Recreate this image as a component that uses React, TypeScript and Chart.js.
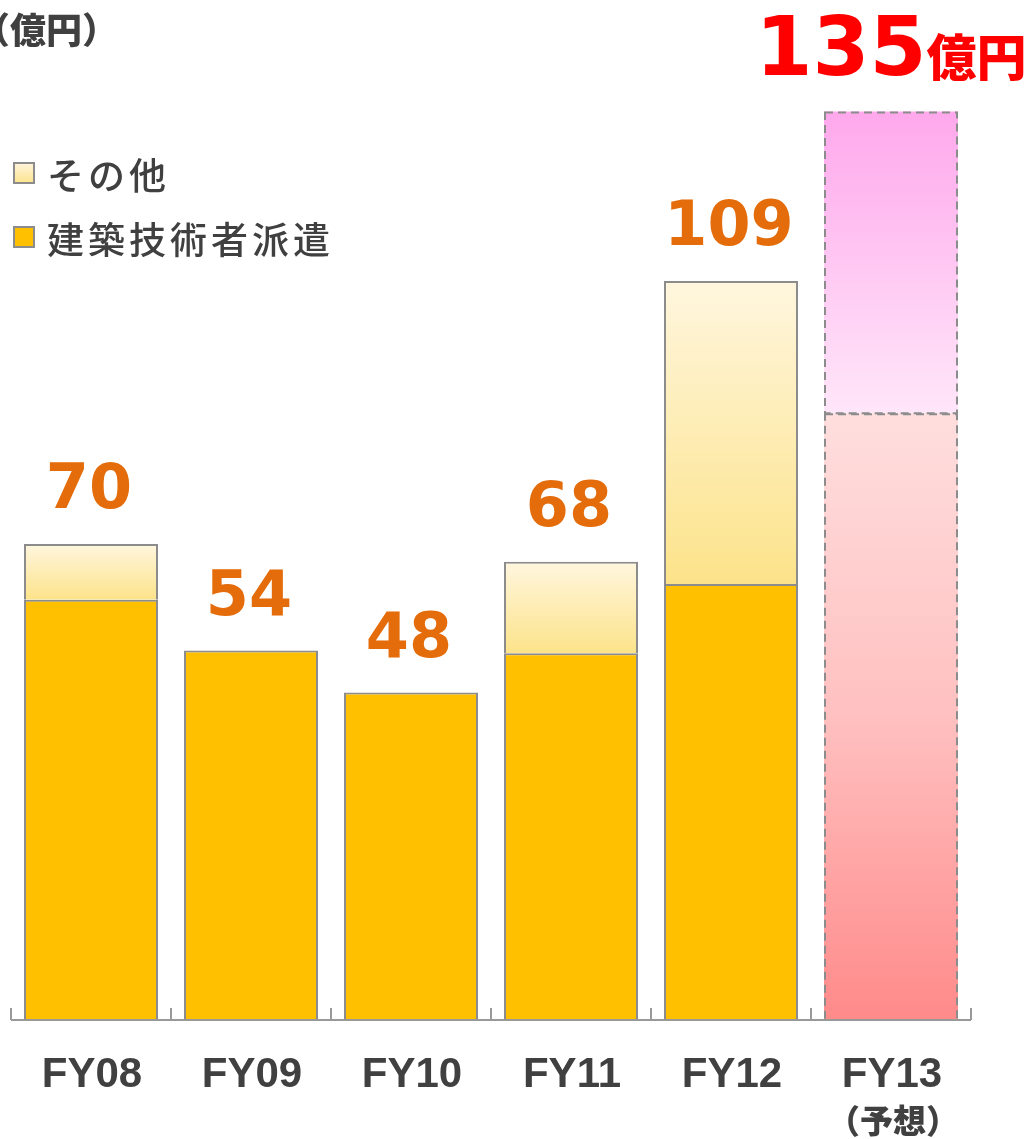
import { useEffect, useRef } from 'react';
import { Chart, registerables } from 'chart.js';

Chart.register(...registerables);

// ---- data ----
const categories = ['FY08', 'FY09', 'FY10', 'FY11', 'FY12', 'FY13'];
const subLabels = ['', '', '', '', '', '（予想）'];
const dispatchValues = [62, 54.5, 48.3, 54.1, 64.3, 89.5];
const otherValues: (number | null)[] = [8.2, null, null, 13.5, 44.7, 44.5];
const totalLabels = ['70', '54', '48', '68', '109', '135'];
const seriesNames = ['その他', '建築技術者派遣'];
const unitLabel = '（億円）';
const forecastUnit = '億円';

const W = 1029;
const H = 1139;
const BORDER = '#8c8c8c';
const TEXT = '#404040';
const LABEL_ORANGE = '#E46C0A';

function vGrad(chart: any, top: number, bottom: number, stops: [number, string][], fallback: string) {
  if (!isFinite(top) || !isFinite(bottom) || top === bottom) return fallback;
  const g = chart.ctx.createLinearGradient(0, top, 0, bottom);
  stops.forEach(([o, c]) => g.addColorStop(o, c));
  return g;
}

const yellowStops: [number, string][] = [
  [0, '#FFF6DE'],
  [1, '#FCE38A'],
];
const pinkUpperStops: [number, string][] = [
  [0, '#FFA8EC'],
  [1, '#FFE6F9'],
];
const pinkLowerStops: [number, string][] = [
  [0, '#FFDEDE'],
  [0.5, '#FFC0C0'],
  [1, '#FF8A8A'],
];

const decorPlugin = {
  id: 'decor',
  afterDatasetsDraw(chart: any) {
    const { ctx, chartArea } = chart;
    const x = chart.scales.x;
    const y = chart.scales.y;
    const n = categories.length;
    const fi = n - 1;
    ctx.save();

    // dashed outline for forecast bar
    ctx.setLineDash([8, 5]);
    ctx.strokeStyle = BORDER;
    ctx.lineWidth = 2;
    [0, 1].forEach((di) => {
      const el = chart.getDatasetMeta(di).data[fi];
      if (!el) return;
      const p = el.getProps(['x', 'y', 'base', 'width'], true);
      ctx.strokeRect(p.x - p.width / 2 + 1, p.y + 1, p.width - 2, p.base - p.y - 1);
    });
    ctx.setLineDash([]);

    // axis line and ticks
    ctx.strokeStyle = '#999999';
    ctx.lineWidth = 2;
    ctx.beginPath();
    ctx.moveTo(chartArea.left, chartArea.bottom);
    ctx.lineTo(chartArea.right, chartArea.bottom);
    for (let i = 0; i <= n; i++) {
      const bx = Math.round(x.getPixelForValue(i - 0.5));
      ctx.moveTo(bx, chartArea.bottom);
      ctx.lineTo(bx, chartArea.bottom - 12);
    }
    ctx.stroke();

    // category labels
    ctx.fillStyle = TEXT;
    ctx.textAlign = 'center';
    categories.forEach((c, i) => {
      const cx = x.getPixelForValue(i);
      ctx.font = 'bold 42px "Liberation Sans"';
      ctx.textBaseline = 'alphabetic';
      ctx.fillText(c, cx + 1, 1087);
      if (subLabels[i]) {
        ctx.font = '900 33px "Noto Sans CJK JP"';
        ctx.textBaseline = 'middle';
        ctx.fillText(subLabels[i], cx + 2, 1120);
      }
    });

    // total labels
    totalLabels.forEach((t, i) => {
      const total = (dispatchValues[i] ?? 0) + (otherValues[i] ?? 0);
      const py = y.getPixelForValue(total);
      const px = chart.getDatasetMeta(0).data[i].x;
      ctx.textBaseline = 'alphabetic';
      if (i === fi) {
        ctx.font = 'bold 82px "DejaVu Sans"';
        const w1 = ctx.measureText(t).width;
        ctx.font = '900 50px "Noto Sans CJK JP"';
        const w2 = ctx.measureText(forecastUnit).width;
        const sx = px - (w1 + w2) / 2;
        ctx.fillStyle = '#FF0000';
        ctx.textAlign = 'left';
        ctx.font = 'bold 82px "DejaVu Sans"';
        ctx.fillText(t, sx, py - 37);
        ctx.font = '900 50px "Noto Sans CJK JP"';
        ctx.fillText(forecastUnit, sx + w1, py - 36);
      } else {
        ctx.fillStyle = LABEL_ORANGE;
        ctx.textAlign = 'center';
        ctx.font = 'bold 62px "DejaVu Sans"';
        ctx.fillText(t, px - 2, py - 36);
      }
    });

    // unit label
    ctx.fillStyle = TEXT;
    ctx.textAlign = 'left';
    ctx.textBaseline = 'middle';
    ctx.font = '900 36px "Noto Sans CJK JP"';
    ctx.fillText(unitLabel, -26, 30);

    // legend
    const legendY = [174, 238];
    const sq = 22;
    seriesNames.forEach((name, i) => {
      const ly = legendY[i];
      const top = ly - 12;
      ctx.fillStyle = i === 0 ? vGrad(chart, top, top + sq, yellowStops, '#FDEBB0') : '#FFC000';
      ctx.fillRect(13, top, sq, sq);
      ctx.strokeStyle = BORDER;
      ctx.lineWidth = 2;
      ctx.strokeRect(14, top + 1, sq - 2, sq - 2);
      ctx.fillStyle = TEXT;
      ctx.font = '500 37px "Noto Sans CJK JP"';
      (ctx as any).letterSpacing = '4px';
      ctx.textBaseline = 'middle';
      ctx.fillText(name, 47, ly + 2);
      (ctx as any).letterSpacing = '0px';
    });

    ctx.restore();
  },
};

export default function App() {
  const ref = useRef<HTMLCanvasElement>(null);
  useEffect(() => {
    const canvas = ref.current!;
    const n = categories.length;
    const chart = new Chart(canvas, {
      type: 'bar',
      data: {
        labels: categories,
        datasets: [
          {
            label: seriesNames[1],
            data: dispatchValues,
            backgroundColor: (c: any) => {
              const chart = c.chart;
              const ys = chart.scales?.y;
              const i = c.dataIndex;
              if (i === n - 1 && ys) {
                return vGrad(chart, ys.getPixelForValue(dispatchValues[i]), ys.getPixelForValue(0), pinkLowerStops, '#FFC0C0');
              }
              return '#FFC000';
            },
            borderColor: BORDER,
            borderWidth: categories.map((_, i) => (i === n - 1 ? 0 : 2)),
            borderSkipped: 'start',
          },
          {
            label: seriesNames[0],
            data: otherValues,
            backgroundColor: (c: any) => {
              const chart = c.chart;
              const ys = chart.scales?.y;
              const i = c.dataIndex;
              if (!ys || typeof i !== 'number') return '#FDEBB0';
              const b = dispatchValues[i];
              const t = b + (otherValues[i] ?? 0);
              return vGrad(
                chart,
                ys.getPixelForValue(t),
                ys.getPixelForValue(b),
                i === n - 1 ? pinkUpperStops : yellowStops,
                i === n - 1 ? '#FFCCF3' : '#FDEBB0'
              );
            },
            borderColor: BORDER,
            borderWidth: categories.map((_, i) => (i === n - 1 ? 0 : 2)),
            borderSkipped: 'start',
          },
        ],
      },
      options: {
        responsive: false,
        animation: false,
        devicePixelRatio: 1,
        layout: { padding: { left: 11, right: W - 971, top: 37, bottom: H - 1020 } },
        datasets: {
          bar: { barPercentage: 0.8375, categoryPercentage: 1 },
        },
        scales: {
          x: { display: false, stacked: true, offset: true },
          y: { display: false, stacked: true, min: 0, max: 145 },
        },
        plugins: {
          legend: { display: false },
          tooltip: { enabled: false },
        },
      },
      plugins: [decorPlugin],
    } as any);
    return () => chart.destroy();
  }, []);
  return (
    <div style={{ position: 'absolute', left: 0, top: 0, width: W, height: H }}>
      <canvas ref={ref} width={W} height={H} style={{ display: 'block', width: W, height: H }} />
    </div>
  );
}
